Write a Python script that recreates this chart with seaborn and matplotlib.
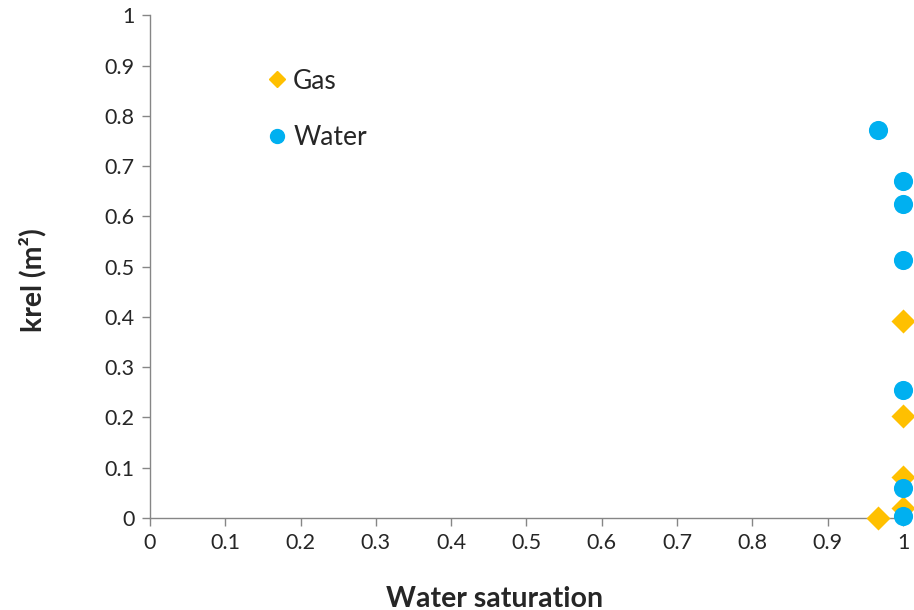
import matplotlib
matplotlib.use("Agg")
import matplotlib.pyplot as plt
import pandas as pd
import seaborn as sns
from matplotlib.lines import Line2D

# relative permeability vs water saturation
gas_sw = [0.967, 1.0, 1.0, 1.0, 1.0]
gas_krel = [0.0, 0.392, 0.203, 0.082, 0.02]
water_sw = [0.967, 1.0, 1.0, 1.0, 1.0, 1.0, 1.0]
water_krel = [0.771, 0.670, 0.624, 0.513, 0.254, 0.060, 0.003]

GAS_C = "#FFC000"
WATER_C = "#00B0F0"
AXIS_C = "#868686"

df = pd.concat([
    pd.DataFrame({"sw": gas_sw, "krel": gas_krel, "phase": "Gas"}),
    pd.DataFrame({"sw": water_sw, "krel": water_krel, "phase": "Water"}),
], ignore_index=True)

sns.set_style("white")
plt.rcParams["font.family"] = ["Lato", "DejaVu Sans"]

fig = plt.figure(figsize=(9.14, 6.10), dpi=100)
ax = fig.add_axes([0.164, 0.151, 0.824, 0.824])

sns.scatterplot(data=df[df.phase == "Gas"], x="sw", y="krel", marker="D",
                color=GAS_C, s=150, linewidth=0, clip_on=False, zorder=3, ax=ax)
sns.scatterplot(data=df[df.phase == "Water"], x="sw", y="krel", marker="o",
                color=WATER_C, s=190, linewidth=0, clip_on=False, zorder=4, ax=ax)

ax.set_xlim(0, 1)
ax.set_ylim(0, 1)
ticks = [round(i * 0.1, 1) for i in range(11)]
labels = ["0"] + [f"{t:g}" for t in ticks[1:-1]] + ["1"]
ax.set_xticks(ticks)
ax.set_xticklabels(labels)
ax.set_yticks(ticks)
ax.set_yticklabels(labels)
ax.tick_params(axis="both", direction="out", length=6, width=1, color=AXIS_C,
               labelsize=15.5, pad=5, left=True, bottom=True)
for side in ["top", "right"]:
    ax.spines[side].set_visible(False)
for side in ["left", "bottom"]:
    ax.spines[side].set_color(AXIS_C)
    ax.spines[side].set_linewidth(1)

ax.set_xlabel("Water saturation", fontsize=20.5, fontweight="bold")
ax.set_ylabel("krel (m²)", fontsize=20.5, fontweight="bold")
ax.xaxis.set_label_coords(0.457, -0.135)
ax.yaxis.set_label_coords(-0.138, 0.473)

handles = [
    Line2D([], [], marker="D", linestyle="", color=GAS_C, markersize=8),
    Line2D([], [], marker="o", linestyle="", color=WATER_C, markersize=10),
]
ax.legend(handles, ["Gas", "Water"], loc="upper left", bbox_to_anchor=(0.143, 0.915),
          frameon=False, fontsize=19, handlelength=0.7, handletextpad=0.25,
          labelspacing=1.2, borderaxespad=0)

fig.savefig("out.png", dpi=100)
